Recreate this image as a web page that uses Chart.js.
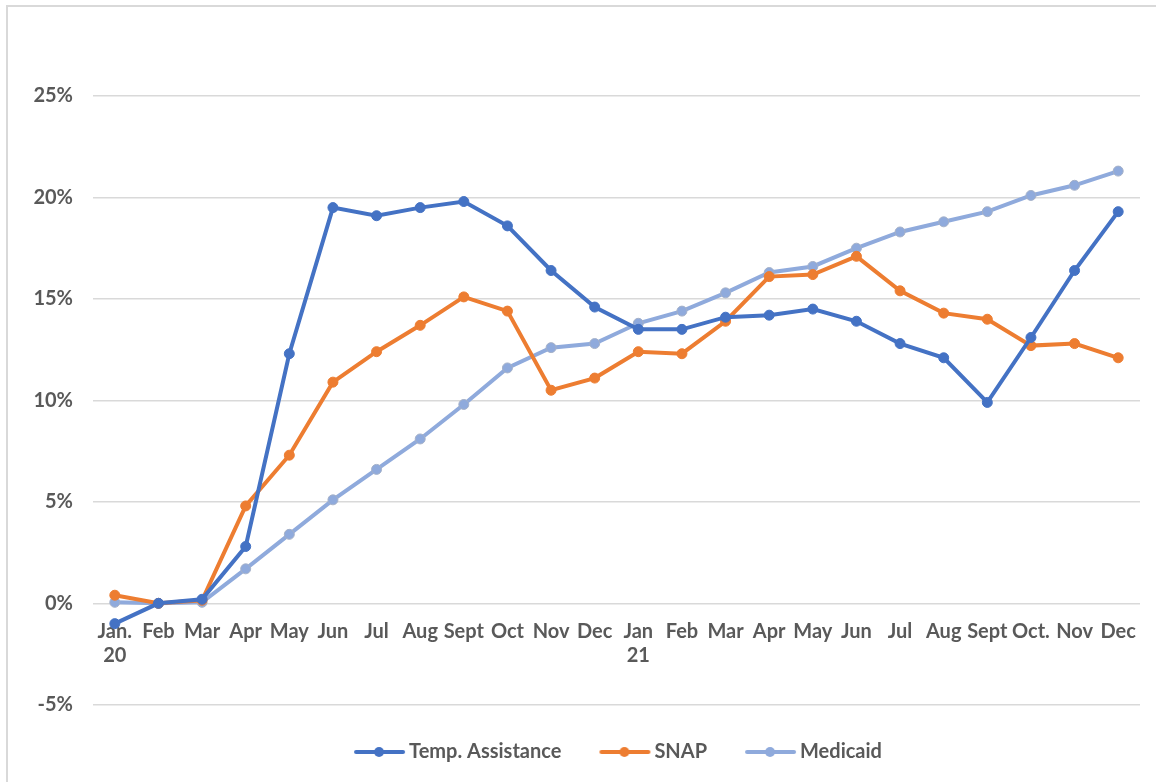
<!DOCTYPE html>
<html>
<head>
<meta charset="utf-8">
<script src="https://cdn.jsdelivr.net/npm/chart.js@4"></script>
<style>
  html, body { margin: 0; padding: 0; background: #fff; }
  #wrap { position: relative; width: 1156px; height: 782px; }
  #frame { position: absolute; left: 6px; top: 5px; right: 0; bottom: 0;
           border-left: 2px solid #d9d9d9; border-top: 2px solid #d9d9d9; pointer-events: none; }
  canvas { position: absolute; left: 0; top: 0; }
</style>
</head>
<body>
<div id="wrap">
  <canvas id="myChart" width="1156" height="782"></canvas>
  <div id="frame"></div>
</div>
<script>
const months = [
  ['Jan.', '20'], 'Feb', 'Mar', 'Apr', 'May', 'Jun', 'Jul', 'Aug', 'Sept', 'Oct', 'Nov', 'Dec',
  ['Jan', '21'], 'Feb', 'Mar', 'Apr', 'May', 'Jun', 'Jul', 'Aug', 'Sept', 'Oct.', 'Nov', 'Dec'
];

const tempAssistance = [-1.0, 0.0, 0.2, 2.8, 12.3, 19.5, 19.1, 19.5, 19.8, 18.6, 16.4, 14.6,
                        13.5, 13.5, 14.1, 14.2, 14.5, 13.9, 12.8, 12.1, 9.9, 13.1, 16.4, 19.3];
const snap = [0.4, 0.0, 0.15, 4.8, 7.3, 10.9, 12.4, 13.7, 15.1, 14.4, 10.5, 11.1,
              12.4, 12.3, 13.9, 16.1, 16.2, 17.1, 15.4, 14.3, 14.0, 12.7, 12.8, 12.1];
const medicaid = [0.05, 0.0, 0.05, 1.7, 3.4, 5.1, 6.6, 8.1, 9.8, 11.6, 12.6, 12.8,
                  13.8, 14.4, 15.3, 16.3, 16.6, 17.5, 18.3, 18.8, 19.3, 20.1, 20.6, 21.3];

const yTicks = [-5, 0, 5, 10, 15, 20, 25];

const textColor = '#595959';
const fontFamily = 'Lato, "Open Sans", sans-serif';
const tickFont = { family: fontFamily, size: 20, weight: 'bold' };

// legend marker: a short line with a dot; the canvas is wider than the legend box,
// so the line sits close to the text and the blank left part works as item gap
const legendMark = (color) => {
    const c = document.createElement('canvas');
    c.width = 80; c.height = 14;
    const g = c.getContext('2d');
    g.strokeStyle = color;
    g.lineWidth = 4;
    g.lineCap = 'round';
    g.beginPath(); g.moveTo(30, 7); g.lineTo(77, 7); g.stroke();
    g.fillStyle = color;
    g.beginPath(); g.arc(53, 7, 5, 0, Math.PI * 2); g.fill();
    return c;
};

const mkSet = (label, values, color, pointBorder) => ({
    label: label,
    data: values,
    borderColor: color,
    backgroundColor: color,
    borderWidth: 4,
    pointRadius: 5,
    pointBorderWidth: 1,
    pointBorderColor: pointBorder,
    pointBackgroundColor: color,
    pointStyle: 'circle',
    legendStyle: legendMark(color),
    tension: 0
});

const data = {
    labels: months,
    datasets: [
        mkSet('Temp. Assistance', tempAssistance, '#4472c4', '#4472c4'),
        mkSet('SNAP', snap, '#ed7d31', '#ed7d31'),
        mkSet('Medicaid', medicaid, '#8faadc', '#a5b1c8')
    ]
};

// the legend in the original is centred under the plot, not under the whole canvas
const legendShift = {
    id: 'legendShift',
    afterLayout(chart) {
        const lg = chart.legend;
        if (!lg) return;
        const dx = (chart.chartArea.left + chart.chartArea.right) / 2 - (lg.left + lg.right) / 2 - 9;
        lg.left += dx;
        lg.right += dx;
    }
};

const config = {
    type: 'line',
    data: data,
    plugins: [legendShift],
    options: {
        responsive: false,
        animation: false,
        layout: { padding: { left: 20, right: 16, top: 96, bottom: 10 } },
        plugins: {
            tooltip: { enabled: false },
            legend: {
                position: 'bottom',
                title: { display: true, text: '', font: { size: 1 }, padding: { top: 19, bottom: 0 } },
                labels: {
                    color: textColor,
                    font: tickFont,
                    usePointStyle: true,
                    pointStyleWidth: 66,
                    padding: 17,
                    generateLabels: (chart) => chart.data.datasets.map((ds, i) => ({
                        text: ds.label,
                        fillStyle: ds.borderColor,
                        strokeStyle: ds.borderColor,
                        fontColor: textColor,
                        lineWidth: 0,
                        pointStyle: ds.legendStyle,
                        hidden: false,
                        datasetIndex: i
                    }))
                }
            }
        },
        scales: {
            x: {
                position: { y: 0 },
                offset: true,
                grid: { display: false, drawTicks: false, offset: true },
                border: { display: false },
                ticks: {
                    color: textColor,
                    font: tickFont,
                    padding: 16,
                    autoSkip: false,
                    maxRotation: 0
                }
            },
            y: {
                min: yTicks[0],
                max: yTicks[yTicks.length - 1],
                afterBuildTicks: (scale) => { scale.ticks = yTicks.map(v => ({ value: v })); },
                afterFit: (scale) => { scale.width = 73; },
                grid: { color: '#d9d9d9', lineWidth: 1.5, drawTicks: false },
                border: { display: false },
                ticks: {
                    color: textColor,
                    font: tickFont,
                    padding: 20,
                    callback: (v) => v + '%'
                }
            }
        }
    }
};

const ctx = document.getElementById('myChart').getContext('2d');
new Chart(ctx, config);
</script>
</body>
</html>
